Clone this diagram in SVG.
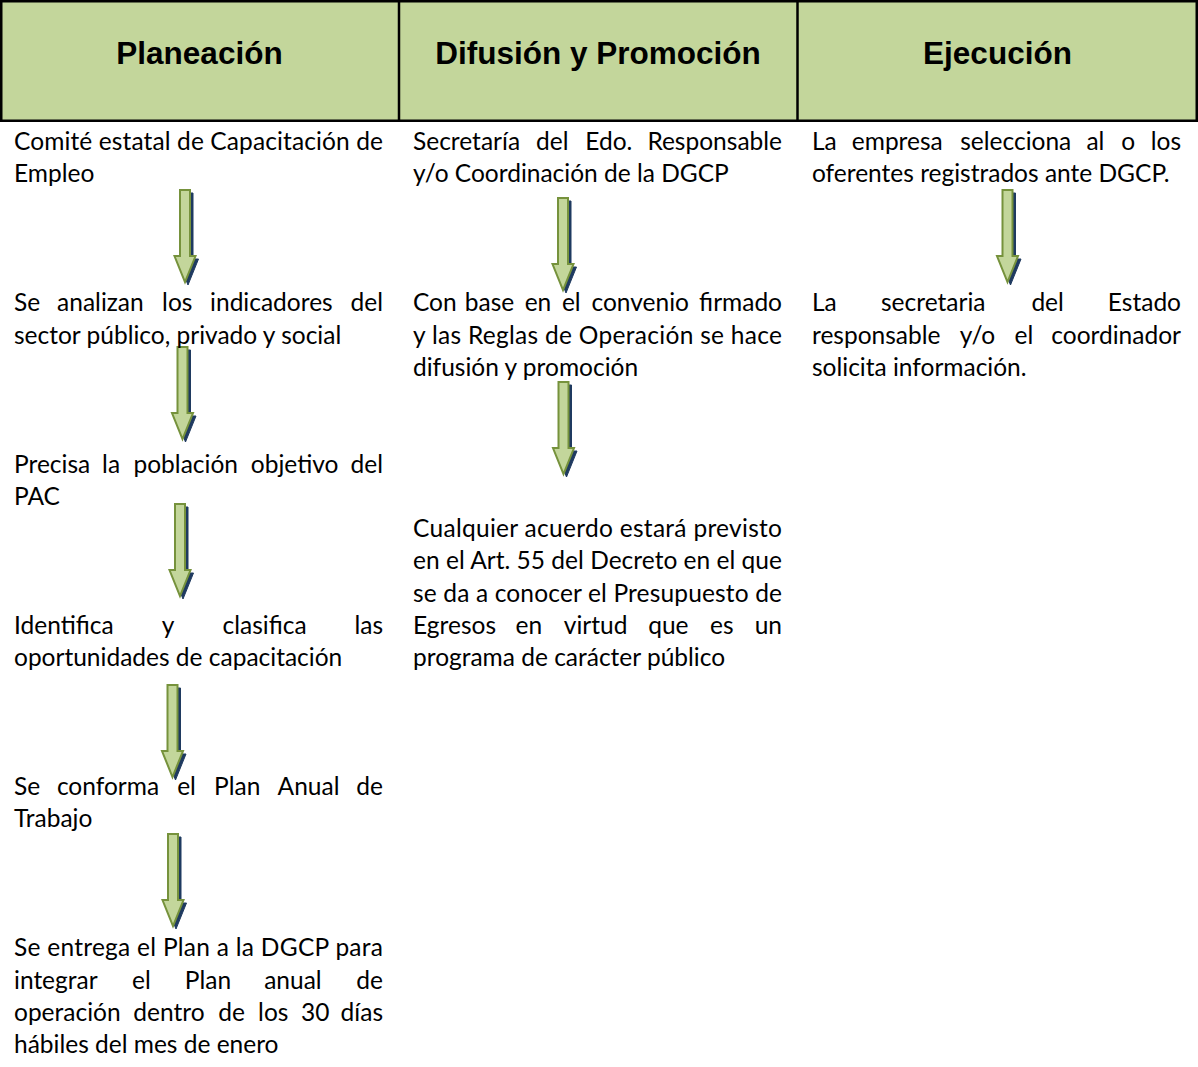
<svg xmlns="http://www.w3.org/2000/svg" xmlns:xlink="http://www.w3.org/1999/xlink" width="1198" height="1067" viewBox="0 0 1198 1067">
  <style>
    .hdbox { fill: #c3d69b; stroke: #000; stroke-width: 2.5; }
    .hdline { stroke: #000; stroke-width: 2.5; }
    .hd { font-family: "Liberation Sans", Arial, sans-serif; font-weight: bold; font-size: 31.5px; text-anchor: middle; fill: #000; }
    .t { font-family: Lato, "Open Sans", sans-serif; font-size: 24.5px; fill: #000; }
    .e { text-anchor: end; }
    .ar { fill: #c3d69b; stroke: #76923c; stroke-width: 2; stroke-linejoin: miter; }
    .sh { fill: #1f3a60; stroke: #1f3a60; stroke-width: 1; }
  </style>
  <defs>
    <!-- down arrow, origin at the top centre of the shaft -->
    <path id="arw" d="M-5 0H5V66H10.5L0 92L-10.5 66H-5Z"/>
  </defs>

  <rect width="1198" height="1067" fill="#fff"/>

  <!-- column headers -->
  <g id="headers">
    <rect class="hdbox" x="1.25" y="1.25" width="1195.5" height="119.5"/>
    <line class="hdline" x1="399" y1="1" x2="399" y2="121"/>
    <line class="hdline" x1="797.5" y1="1" x2="797.5" y2="121"/>
    <g id="h-planeacion"><text class="hd" x="199.5" y="64">Planeación</text></g>
    <g id="h-difusion"><text class="hd" x="598" y="64">Difusión y Promoción</text></g>
    <g id="h-ejecucion"><text class="hd" x="997.5" y="64">Ejecución</text></g>
  </g>

  <!-- connectors -->
  <g id="connectors">
    <g transform="translate(185,190)"><use href="#arw" class="sh" transform="translate(3,3)"/><use href="#arw" class="ar"/></g>
    <g transform="translate(182.5,347)"><use href="#arw" class="sh" transform="translate(3,3)"/><use href="#arw" class="ar"/></g>
    <g transform="translate(180,504)"><use href="#arw" class="sh" transform="translate(3,3)"/><use href="#arw" class="ar"/></g>
    <g transform="translate(172.5,685)"><use href="#arw" class="sh" transform="translate(3,3)"/><use href="#arw" class="ar"/></g>
    <g transform="translate(173,834)"><use href="#arw" class="sh" transform="translate(3,3)"/><use href="#arw" class="ar"/></g>
    <g transform="translate(563,198)"><use href="#arw" class="sh" transform="translate(3,3)"/><use href="#arw" class="ar"/></g>
    <g transform="translate(563.5,382)"><use href="#arw" class="sh" transform="translate(3,3)"/><use href="#arw" class="ar"/></g>
    <g transform="translate(1007.5,190)"><use href="#arw" class="sh" transform="translate(3,3)"/><use href="#arw" class="ar"/></g>
  </g>

  <!-- Planeación column -->
  <g id="p1-comite">
    <text class="t" x="14" y="150" textLength="369" lengthAdjust="spacing">Comité estatal de Capacitación de</text>
    <text class="t" x="14" y="182.25">Empleo</text>
  </g>
  <g id="p1-analizan">
    <text class="t" y="311.25"><tspan x="14">Se</tspan><tspan x="57.1">analizan</tspan><tspan x="162.1">los</tspan><tspan x="210.1">indicadores</tspan><tspan x="383" class="e">del</tspan></text>
    <text class="t" x="14" y="343.5">sector público, privado y social</text>
  </g>
  <g id="p1-precisa">
    <text class="t" y="472.5"><tspan x="14">Precisa</tspan><tspan x="102.1">la</tspan><tspan x="133.5">población</tspan><tspan x="250.8">objetivo</tspan><tspan x="383" class="e">del</tspan></text>
    <text class="t" x="14" y="504.75">PAC</text>
  </g>
  <g id="p1-identifica">
    <text class="t" y="633.75"><tspan x="14">Identifica</tspan><tspan x="161.8">y</tspan><tspan x="222.6">clasifica</tspan><tspan x="383" class="e">las</tspan></text>
    <text class="t" x="14" y="666">oportunidades de capacitación</text>
  </g>
  <g id="p1-conforma">
    <text class="t" y="795"><tspan x="14">Se</tspan><tspan x="56.9">conforma</tspan><tspan x="177.2">el</tspan><tspan x="214.1">Plan</tspan><tspan x="277.6">Anual</tspan><tspan x="383" class="e">de</tspan></text>
    <text class="t" x="14" y="827.25">Trabajo</text>
  </g>
  <g id="p1-entrega">
    <text class="t" x="14" y="956.25" textLength="369" lengthAdjust="spacing">Se entrega el Plan a la DGCP para</text>
    <text class="t" y="988.5"><tspan x="14">integrar</tspan><tspan x="132">el</tspan><tspan x="184.8">Plan</tspan><tspan x="264.2">anual</tspan><tspan x="383" class="e">de</tspan></text>
    <text class="t" y="1020.75"><tspan x="14">operación</tspan><tspan x="133.3">dentro</tspan><tspan x="218.2">de</tspan><tspan x="258.1">los</tspan><tspan x="301.1">30</tspan><tspan x="383" class="e">días</tspan></text>
    <text class="t" x="14" y="1053">hábiles del mes de enero</text>
  </g>

  <!-- Difusión y Promoción column -->
  <g id="p2-secretaria">
    <text class="t" y="150"><tspan x="413">Secretaría</tspan><tspan x="536.1">del</tspan><tspan x="585.3">Edo.</tspan><tspan x="782" class="e">Responsable</tspan></text>
    <text class="t" x="413" y="182.25">y/o Coordinación de la DGCP</text>
  </g>
  <g id="p2-convenio">
    <text class="t" y="311.25"><tspan x="413">Con</tspan><tspan x="464.8">base</tspan><tspan x="524.7">en</tspan><tspan x="561.9">el</tspan><tspan x="591.5">convenio</tspan><tspan x="782" class="e">firmado</tspan></text>
    <text class="t" x="413" y="343.5" textLength="369" lengthAdjust="spacing">y las Reglas de Operación se hace</text>
    <text class="t" x="413" y="375.75">difusión y promoción</text>
  </g>
  <g id="p2-acuerdo">
    <text class="t" x="413" y="537" textLength="369" lengthAdjust="spacing">Cualquier acuerdo estará previsto</text>
    <text class="t" x="413" y="569.25" textLength="369" lengthAdjust="spacing">en el Art. 55 del Decreto en el que</text>
    <text class="t" x="413" y="601.5" textLength="369" lengthAdjust="spacing">se da a conocer el Presupuesto de</text>
    <text class="t" y="633.75"><tspan x="413">Egresos</tspan><tspan x="515.6">en</tspan><tspan x="563.8">virtud</tspan><tspan x="648.2">que</tspan><tspan x="710">es</tspan><tspan x="782" class="e">un</tspan></text>
    <text class="t" x="413" y="666">programa de carácter público</text>
  </g>

  <!-- Ejecución column -->
  <g id="p3-empresa">
    <text class="t" y="150"><tspan x="812">La</tspan><tspan x="851.8">empresa</tspan><tspan x="960.2">selecciona</tspan><tspan x="1086.4">al</tspan><tspan x="1121.2">o</tspan><tspan x="1181" class="e">los</tspan></text>
    <text class="t" x="812" y="182.25">oferentes registrados ante DGCP.</text>
  </g>
  <g id="p3-secretaria">
    <text class="t" y="311.25"><tspan x="812">La</tspan><tspan x="881">secretaria</tspan><tspan x="1031.4">del</tspan><tspan x="1181" class="e">Estado</tspan></text>
    <text class="t" y="343.5"><tspan x="812">responsable</tspan><tspan x="959.7">y/o</tspan><tspan x="1014.5">el</tspan><tspan x="1181" class="e">coordinador</tspan></text>
    <text class="t" x="812" y="375.75">solicita información.</text>
  </g>
</svg>
